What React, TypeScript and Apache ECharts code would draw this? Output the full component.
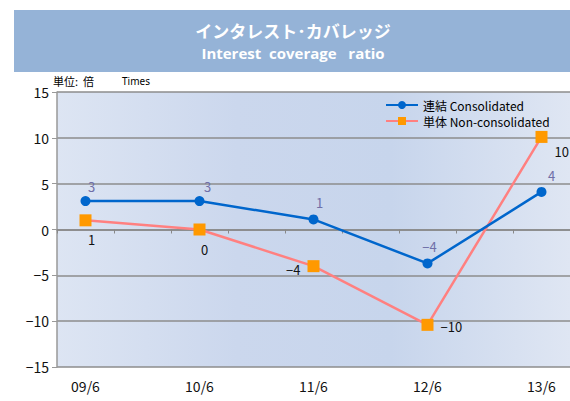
import React, { useEffect, useRef } from "react";
import * as echarts from "echarts";

const categories = ["09/6", "", "10/6", "", "11/6", "", "12/6", "", "13/6"];
const consolidated = [3.1, null, 3.1, null, 1.1, null, -3.7, null, 4.1];
const nonConsolidated = [1.0, null, 0.0, null, -4.0, null, -10.4, null, 10.1];
const yTicks = [-15, -10, -5, 0, 5, 10, 15];

const fmtNum = (v: number) => String(Math.round(v)).replace("-", "−");

export default function App() {
  const ref = useRef<HTMLDivElement>(null);
  useEffect(() => {
    const chart = echarts.init(ref.current!, undefined, { renderer: "svg" });
    const font = "'Noto Sans CJK JP', 'Noto Sans', sans-serif";
    const consLabelOffsets: any[] = [[6, 2], null, [8, 2], null, [6, 0], null, [2, 0], null, [10, 0]];
    const nonLabelCfg: any[] = [
      { position: "bottom", offset: [6, 2] },
      null,
      { position: "bottom", offset: [5, 2] },
      null,
      { position: "left", offset: [-2, 3] },
      null,
      { position: "right", offset: [2, 2] },
      null,
      { position: "right", offset: [2, 15] },
    ];
    chart.setOption({
      animation: false,
      backgroundColor: "#ffffff",
      textStyle: { fontFamily: font },
      graphic: [
        { type: "rect", shape: { x: 14, y: 10, width: 556, height: 62 }, style: { fill: "#95b3d7" }, z: 0 },
        {
          type: "text", x: 293, y: 30,
          style: { text: "インタレスト･カバレッジ", fill: "#ffffff", font: "bold 17px 'Noto Sans CJK JP'", textAlign: "center", textVerticalAlign: "middle" },
        },
        {
          type: "text", x: 293, y: 53,
          style: { text: "Interest  coverage   ratio", fill: "#ffffff", font: "bold 15px 'Open Sans', 'Noto Sans'", textAlign: "center", textVerticalAlign: "middle" },
        },
        {
          type: "text", x: 53, y: 81,
          style: { text: "単位:  倍", fill: "#000000", font: "11px 'Noto Sans CJK JP'", textVerticalAlign: "middle" },
        },
        {
          type: "text", x: 122, y: 81,
          style: { text: "Times", fill: "#000000", font: "10px 'Noto Sans'", textVerticalAlign: "middle" },
        },
      ],
      grid: {
        left: 57, right: 0, top: 92, bottom: 34, show: true, borderWidth: 0,
        backgroundColor: {
          type: "linear", x: 0, y: 0, x2: 1, y2: 0,
          colorStops: [
            { offset: 0, color: "#dde5f3" },
            { offset: 0.35, color: "#cbd7ed" },
            { offset: 0.65, color: "#c7d5ec" },
            { offset: 1, color: "#dfe6f3" },
          ],
        },
      },
      legend: {
        orient: "vertical", left: 380, top: 94, itemGap: 4, itemWidth: 32, itemHeight: 10,
        textStyle: { fontSize: 12, color: "#000", fontFamily: font },
        data: ["連結 Consolidated", "単体 Non-consolidated"],
      },
      xAxis: [
        {
          type: "category", data: categories, position: "bottom",
          axisLine: { show: false, onZero: false }, axisTick: { show: false },
          axisLabel: { interval: 0, fontSize: 14, color: "#111", margin: 12 },
          splitLine: { show: false },
        },
        {
          type: "category", data: categories, position: "bottom",
          axisLine: { show: true, onZero: true, lineStyle: { color: "#888", width: 1.5 } },
          axisTick: { show: true, length: 4, interval: 0, lineStyle: { color: "#888" } },
          axisLabel: { show: false }, splitLine: { show: false },
        },
      ],
      yAxis: {
        type: "value", min: yTicks[0], max: yTicks[yTicks.length - 1], interval: 5,
        axisLine: { show: true, lineStyle: { color: "#999", width: 1.5 } },
        axisTick: { show: true, length: 5, lineStyle: { color: "#999" } },
        axisLabel: { fontSize: 14, color: "#111", margin: 8, formatter: (v: number) => String(v).replace("-", "−") },
        splitLine: { show: true, lineStyle: { color: "#8c8c8c", width: 1.5 } },
      },
      series: [
        {
          name: "単体 Non-consolidated", type: "line", xAxisIndex: 0, connectNulls: true,
          data: nonConsolidated.map((v, i) => v === null ? null : ({
            value: v,
            label: { show: true, ...nonLabelCfg[i], formatter: () => fmtNum(v), color: "#111", fontSize: 13 },
          })),
          lineStyle: { color: "#ff8080", width: 2.5 },
          itemStyle: { color: "#ff9900" },
          symbol: "rect", symbolSize: 12, z: 3,
        },
        {
          name: "連結 Consolidated", type: "line", xAxisIndex: 0, connectNulls: true,
          data: consolidated.map((v, i) => v === null ? null : ({
            value: v,
            label: { show: true, position: "top", offset: consLabelOffsets[i], formatter: () => fmtNum(v), color: "#6f6fa8", fontSize: 13 },
          })),
          lineStyle: { color: "#0066cc", width: 2.5 },
          itemStyle: { color: "#0066cc" },
          symbol: "circle", symbolSize: 10, z: 4,
        },
      ],
    });
    return () => chart.dispose();
  }, []);
  return <div ref={ref} style={{ position: "fixed", left: 0, top: 0, width: 570, height: 401 }} />;
}
